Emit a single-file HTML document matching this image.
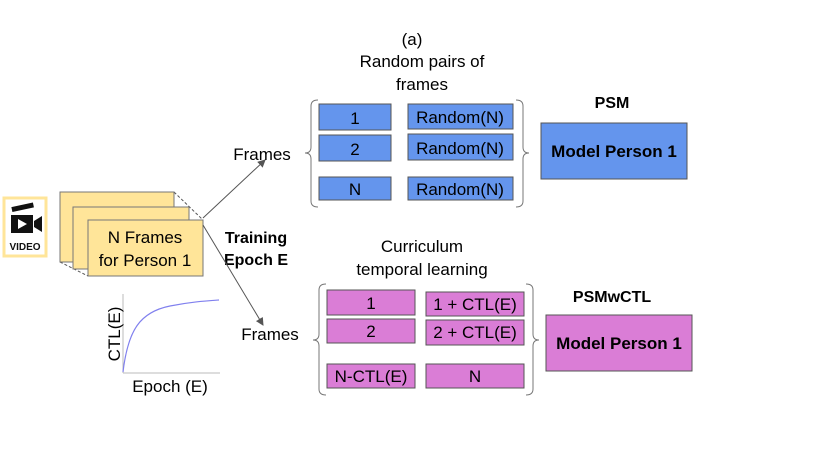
<!DOCTYPE html>
<html><head><meta charset="utf-8"><style>
body{margin:0;background:#fff;}
svg text{font-family:"Liberation Sans",sans-serif;}
</style></head><body>
<svg width="830" height="467" viewBox="0 0 830 467" xmlns="http://www.w3.org/2000/svg">
<defs><marker id="ah" markerWidth="8" markerHeight="8" refX="7" refY="4" orient="auto" markerUnits="userSpaceOnUse"><path d="M0,0 L8,4 L0,8 z" fill="#555"/></marker></defs>
<!-- video icon -->
<rect x="4" y="198" width="42" height="58" fill="#fff" stroke="#FFE599" stroke-width="3"/>
<rect x="12" y="207" width="22" height="5" fill="#111" transform="rotate(-12 12 210)"/>
<rect x="11" y="215" width="22" height="18" fill="#111"/>
<path d="M34,221 L42,216 L42,232 L34,227 z" fill="#111"/>
<path d="M18,219 L27,224 L18,229 z" fill="#fff"/>
<text x="25" y="250" font-size="10" font-weight="bold" text-anchor="middle" fill="#111">VIDEO</text>
<!-- frames stack -->
<line x1="174" y1="192" x2="203" y2="220" stroke="#555" stroke-dasharray="3,2"/>
<line x1="60" y1="262" x2="88" y2="276" stroke="#555" stroke-dasharray="3,2"/>
<rect x="60" y="192" width="114" height="70" fill="#FFE599" stroke="#777"/>
<rect x="73" y="207" width="116" height="62" fill="#FFE599" stroke="#777"/>
<rect x="88" y="220" width="115" height="56" fill="#FFE599" stroke="#777"/>
<text x="145" y="243" font-size="17" text-anchor="middle">N Frames</text>
<text x="145" y="266" font-size="17" text-anchor="middle">for Person 1</text>
<text x="256" y="243" font-size="16" font-weight="bold" text-anchor="middle">Training</text>
<text x="256" y="265" font-size="16" font-weight="bold" text-anchor="middle">Epoch E</text>
<!-- arrows -->
<line x1="203" y1="218" x2="265" y2="160" stroke="#555" marker-end="url(#ah)"/>
<line x1="203" y1="225" x2="263" y2="325" stroke="#555" marker-end="url(#ah)"/>
<text x="262" y="160" font-size="17" text-anchor="middle">Frames</text>
<text x="270" y="340" font-size="17" text-anchor="middle">Frames</text>
<!-- graph -->
<line x1="123" y1="294" x2="123" y2="373" stroke="#bbb"/>
<line x1="123" y1="373" x2="220" y2="373" stroke="#bbb"/>
<path d="M123,372 C128,330 140,312 170,306 C190,302 205,301 219,300" fill="none" stroke="#8080ee" stroke-width="1.2"/>
<text x="114" y="340" font-size="17" text-anchor="middle" transform="rotate(-90 114 334)">CTL(E)</text>
<text x="170" y="392" font-size="17" text-anchor="middle">Epoch (E)</text>
<!-- top section -->
<text x="412" y="45" font-size="17" text-anchor="middle">(a)</text>
<text x="422" y="67" font-size="17" text-anchor="middle">Random pairs of</text>
<text x="422" y="90" font-size="17" text-anchor="middle">frames</text>
<path d="M318,100 Q311,100 311,106 L311,147 Q311,153 305,153 Q311,153 311,159 L311,201 Q311,207 318,207" fill="none" stroke="#777"/>
<path d="M516,100 Q523,100 523,106 L523,147 Q523,153 529,153 Q523,153 523,159 L523,201 Q523,207 516,207" fill="none" stroke="#777"/>
<g fill="#6495ED" stroke="#555">
<rect x="319" y="104" width="72" height="26"/><rect x="319" y="135" width="72" height="26"/><rect x="319" y="177" width="72" height="23"/>
<rect x="408" y="104" width="105" height="25"/><rect x="408" y="134" width="105" height="26"/><rect x="408" y="177" width="105" height="23"/>
<rect x="541" y="123" width="146" height="56"/>
</g>
<g font-size="17" text-anchor="middle">
<text x="355" y="124">1</text><text x="355" y="155">2</text><text x="355" y="195">N</text>
<text x="460" y="123">Random(N)</text><text x="460" y="154">Random(N)</text><text x="460" y="195">Random(N)</text>
</g>
<text x="614" y="157" font-size="17" font-weight="bold" text-anchor="middle">Model Person 1</text>
<text x="612" y="108" font-size="16" font-weight="bold" text-anchor="middle">PSM</text>
<!-- bottom section -->
<text x="422" y="252" font-size="17" text-anchor="middle">Curriculum</text>
<text x="422" y="275" font-size="17" text-anchor="middle">temporal learning</text>
<path d="M326,284 Q319,284 319,290 L319,334 Q319,340 313,340 Q319,340 319,346 L319,389 Q319,395 326,395" fill="none" stroke="#777"/>
<path d="M526,284 Q533,284 533,290 L533,334 Q533,340 539,340 Q533,340 533,346 L533,389 Q533,395 526,395" fill="none" stroke="#777"/>
<g fill="#DA7DD6" stroke="#555">
<rect x="327" y="290" width="88" height="25"/><rect x="327" y="319" width="88" height="24"/><rect x="327" y="364" width="88" height="24"/>
<rect x="426" y="292" width="98" height="24"/><rect x="426" y="320" width="98" height="25"/><rect x="426" y="364" width="98" height="24"/>
<rect x="546" y="315" width="146" height="56"/>
</g>
<g font-size="17" text-anchor="middle">
<text x="371" y="309">1</text><text x="371" y="337">2</text><text x="371" y="382">N-CTL(E)</text>
<text x="475" y="310">1 + CTL(E)</text><text x="475" y="338">2 + CTL(E)</text><text x="475" y="382">N</text>
</g>
<text x="619" y="349" font-size="17" font-weight="bold" text-anchor="middle">Model Person 1</text>
<text x="612" y="302" font-size="16" font-weight="bold" text-anchor="middle">PSMwCTL</text>
</svg>
</body></html>
